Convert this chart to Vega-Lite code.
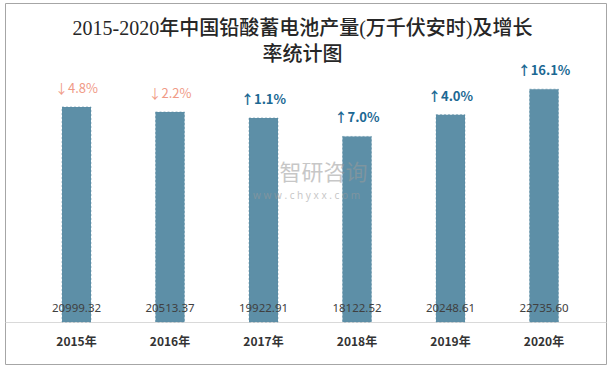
{
  "$schema": "https://vega.github.io/schema/vega-lite/v6.json",
  "width": 601,
  "height": 361,
  "autosize": {"type": "none"},
  "padding": {"left": 5, "top": 3, "right": 7, "bottom": 3},
  "background": "#ffffff",
  "config": {
    "view": {"stroke": "#a6a6a6", "strokeWidth": 1},
    "font": "Noto Sans"
  },
  "title": {
    "text": ["2015-2020年中国铅酸蓄电池产量(万千伏安时)及增长", "率统计图"],
    "font": "Liberation Serif, Noto Sans CJK SC",
    "fontSize": 20,
    "fontWeight": 500,
    "color": "#262626",
    "lineHeight": 26,
    "anchor": "middle",
    "offset": -62,
    "dx": -3
  },
  "data": {
    "values": [
      {"year": "2015年", "value": 20999.32, "growth": "↓4.8%", "dir": "down"},
      {"year": "2016年", "value": 20513.37, "growth": "↓2.2%", "dir": "down"},
      {"year": "2017年", "value": 19922.91, "growth": "↑1.1%", "dir": "up"},
      {"year": "2018年", "value": 18122.52, "growth": "↑7.0%", "dir": "up"},
      {"year": "2019年", "value": 20248.61, "growth": "↑4.0%", "dir": "up"},
      {"year": "2020年", "value": 22735.60, "growth": "↑16.1%", "dir": "up"}
    ]
  },
  "encoding": {
    "x": {
      "field": "year",
      "type": "nominal",
      "sort": null,
      "scale": {"type": "band", "paddingInner": 0.69, "paddingOuter": 0.5589, "align": 0.5455},
      "axis": {
        "title": null,
        "offset": -42,
        "domainColor": "#d9d9d9",
        "domainWidth": 1,
        "ticks": false,
        "labelPadding": 14,
        "labelFontSize": 12,
        "labelFontWeight": "bold",
        "labelColor": "#333333",
        "labelFont": "Noto Sans CJK SC",
        "labelAngle": 0
      }
    },
    "y": {
      "field": "value",
      "type": "quantitative",
      "scale": {"domain": [-4100, 31150], "zero": false, "nice": false},
      "axis": null
    }
  },
  "layer": [
    {
      "mark": {"type": "bar", "color": "#5d8fa7", "stroke": "#55879f", "strokeWidth": 0.5, "strokeDash": [2, 2]},
      "encoding": {"y2": {"datum": 0}}
    },
    {
      "mark": {"type": "text", "baseline": "middle", "dy": -13, "fontSize": 11.5, "color": "#404040", "font": "Noto Sans"},
      "encoding": {
        "y": {"datum": 0},
        "text": {"field": "value", "type": "quantitative", "format": ".2f"}
      }
    },
    {
      "transform": [{"filter": "datum.dir === 'down'"}],
      "mark": {"type": "text", "baseline": "middle", "dy": -18, "fontSize": 13, "color": "#f09a86", "font": "Noto Sans CJK SC"},
      "encoding": {"text": {"field": "growth"}}
    },
    {
      "transform": [{"filter": "datum.dir === 'up'"}],
      "mark": {"type": "text", "baseline": "middle", "dy": -18, "fontSize": 13, "fontWeight": "bold", "color": "#1b6893", "font": "Noto Sans CJK SC"},
      "encoding": {"text": {"field": "growth"}}
    },
    {
      "data": {"values": [{"year": "2017年", "value": 14550, "label": "智研咨询"}]},
      "mark": {"type": "text", "baseline": "middle", "dx": 60, "fontSize": 22, "color": "#9a9a9a", "opacity": 0.55, "font": "Noto Sans CJK SC"},
      "encoding": {"text": {"field": "label"}}
    },
    {
      "data": {"values": [{"year": "2017年", "value": 12300, "label": "w w w . c h y x x . c o m"}]},
      "mark": {"type": "text", "baseline": "middle", "dx": 43, "fontSize": 10, "color": "#9a9a9a", "opacity": 0.55, "font": "Noto Sans"},
      "encoding": {"text": {"field": "label"}}
    }
  ]
}
